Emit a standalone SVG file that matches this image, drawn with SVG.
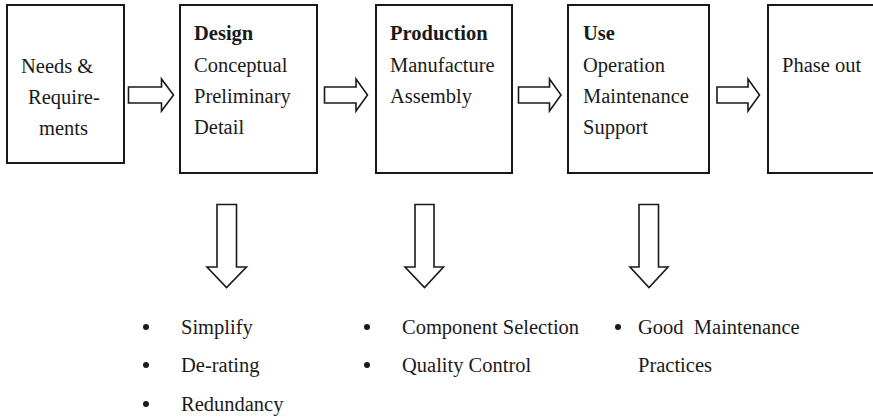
<svg xmlns="http://www.w3.org/2000/svg" width="873" height="417" viewBox="0 0 873 417">
<style>
.box{fill:#fff;stroke:#1a1a1a;stroke-width:2}
.arr{fill:#fff;stroke:#1a1a1a;stroke-width:1.6;stroke-linejoin:miter}
text{font-family:"Liberation Serif","Times New Roman",serif;font-size:20.5px;fill:#1a1a1a}
.b{font-weight:bold}
.dot{fill:#1a1a1a}
</style>
<rect width="873" height="417" fill="#fff"/>
<g id="needs"><rect class="box" x="7" y="5" width="117" height="158"/>
<text x="21" y="73">Needs &amp;</text><text x="28" y="104">Require-</text><text x="39" y="135">ments</text></g>
<g id="design"><rect class="box" x="180" y="5" width="137" height="168"/>
<text class="b" x="194" y="40">Design</text><text x="194" y="72">Conceptual</text><text x="194" y="103">Preliminary</text><text x="194" y="134">Detail</text></g>
<g id="production"><rect class="box" x="376" y="5" width="136" height="168"/>
<text class="b" x="390" y="40">Production</text><text x="390" y="72">Manufacture</text><text x="390" y="103">Assembly</text></g>
<g id="use"><rect class="box" x="568" y="5" width="141" height="168"/>
<text class="b" x="583" y="40">Use</text><text x="583" y="72">Operation</text><text x="583" y="103">Maintenance</text><text x="583" y="134">Support</text></g>
<g id="phaseout"><rect class="box" x="768" y="5" width="120" height="168"/>
<text x="782" y="72">Phase out</text></g>
<g id="connectors">
<path class="arr" d="M128.5,87 H161.5 V79 L173.5,95 L161.5,111 V103 H128.5 Z"/>
<path class="arr" d="M324.5,87 H356 V79 L367.5,95 L356,111 V103 H324.5 Z"/>
<path class="arr" d="M518.5,87 H549.5 V79 L561,95 L549.5,111 V103 H518.5 Z"/>
<path class="arr" d="M717,87 H748 V79 L759.5,95 L748,111 V103 H717 Z"/>
<path class="arr" d="M217,204.5 H236.5 V267 H246.5 L226.5,287.5 L207,267 H217 Z"/>
<path class="arr" d="M415,204.5 H434 V267 H443.5 L424.5,287.5 L405,267 H415 Z"/>
<path class="arr" d="M639,204.5 H658.5 V267 H668 L649,287.5 L630,267 H639 Z"/>
</g>
<g id="list-design">
<circle class="dot" cx="146" cy="327" r="3"/><text x="181" y="334">Simplify</text>
<circle class="dot" cx="146" cy="365" r="3"/><text x="181" y="372">De-rating</text>
<circle class="dot" cx="146" cy="404" r="3"/><text x="181" y="411">Redundancy</text>
</g>
<g id="list-production">
<circle class="dot" cx="367" cy="327" r="3"/><text x="402" y="334">Component Selection</text>
<circle class="dot" cx="367" cy="365" r="3"/><text x="402" y="372">Quality Control</text>
</g>
<g id="list-use">
<circle class="dot" cx="618" cy="327" r="3"/><text x="638" y="334" xml:space="preserve">Good  Maintenance</text>
<text x="638" y="372">Practices</text>
</g>
</svg>
